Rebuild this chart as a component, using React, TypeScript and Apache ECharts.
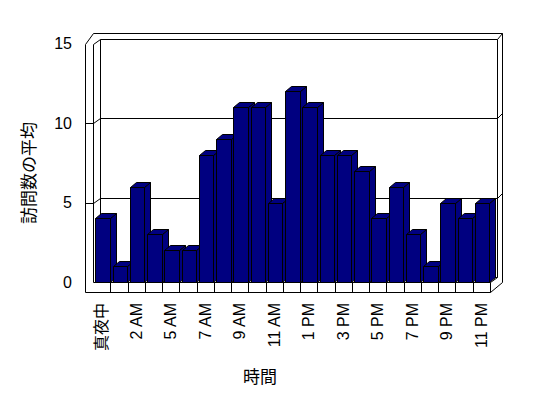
import React, { useEffect, useRef } from 'react';
import * as echarts from 'echarts';

const categories = ['真夜中', '1 AM', '2 AM', '4 AM', '5 AM', '6 AM', '7 AM', '8 AM', '9 AM', '10 AM', '11 AM', '正午', '1 PM', '2 PM', '3 PM', '4 PM', '5 PM', '6 PM', '7 PM', '8 PM', '9 PM', '10 PM', '11 PM'];
const visits = [4, 1, 6, 3, 2, 2, 8, 9, 11, 11, 5, 12, 11, 8, 8, 7, 4, 6, 3, 1, 5, 4, 5];
const gridValues = [5, 10];
const yMax = 15;
const yInterval = 5;
const yAxisTitle = '訪問数の平均';
const xAxisTitle = '時間';

const NAVY = '#000080';
const FONT = '"Liberation Sans", Arial, "Noto Sans CJK JP", sans-serif';

const px = (v: number) => Math.round(v) + 0.5;
const P = (pts: number[][]) => pts.map(([x, y]) => [px(x), px(y)]);

export default function App() {
  const ref = useRef<HTMLDivElement>(null);
  useEffect(() => {
    const chart = echarts.init(ref.current!, null, { renderer: 'svg' });
    const last = categories.length - 1;

    const frameRender = (_params: any, api: any) => {
      const w = api.size([1, 0])[0];
      const L = api.coord([0, 0])[0] - w / 2;
      const R = api.coord([last, 0])[0] + w / 2;
      const Y0 = api.coord([0, 0])[1];
      const Yt = api.coord([0, yMax])[1];
      const T = 8;
      const F = 10;
      const line = (pts: number[][]) => ({
        type: 'polyline',
        shape: { points: P(pts) },
        style: { stroke: '#000', lineWidth: 1, fill: null },
        silent: true,
      });
      const children: any[] = [];
      // back wall fill
      children.push({ type: 'rect', shape: { x: L + 7, y: Yt - 5, width: R - L, height: Y0 - Yt }, style: { fill: '#fff' } });
      children.push(line([[L - T, Yt], [L - T, Y0 + F], [R, Y0 + F]]));
      children.push(line([[L, Yt], [L, Y0], [R, Y0]]));
      children.push(line([[R, Y0], [R, Y0 + F]]));
      children.push(line([[R, Y0 + F], [R + 12, Y0]]));
      children.push(line([[R, Y0], [R + 7, Y0 - 5]]));
      children.push(line([[R + 12, Y0], [R + 12, Yt - 11]]));
      children.push(line([[R + 7, Y0 - 5], [R + 7, Yt - 5]]));
      children.push(line([[L - T, Yt], [L, Yt - 11], [R + 12, Yt - 11]]));
      children.push(line([[L, Yt], [L + 7, Yt - 5], [R + 7, Yt - 5], [R + 12, Yt - 11]]));
      children.push(line([[L + 7, Yt - 5], [L + 7, Y0 - 5]]));
      children.push(line([[L + 7, Y0 - 5], [R + 7, Y0 - 5]]));
      gridValues.forEach((v) => {
        const Yv = api.coord([0, v])[1];
        children.push(line([[L - T, Yv], [L, Yv], [L + 7, Yv - 5], [R + 7, Yv - 5], [R + 12, Yv - 10]]));
      });
      for (let i = 1; i <= last; i++) {
        const x = L + i * w;
        children.push(line([[x, Y0], [x, Y0 + F]]));
      }
      return { type: 'group', children };
    };

    const barRender = (_params: any, api: any) => {
      const i = api.value(0);
      const v = api.value(1);
      const w = api.size([1, 0])[0];
      const base = api.coord([i, 0]);
      const top = api.coord([i, v]);
      const x0 = px(base[0] - w / 2 + 2.3);
      const x1 = px(base[0] + w / 2 - 0.3);
      const yb = px(base[1]);
      const yt = px(top[1]);
      const dx = 6;
      const dy = -5;
      const style = { fill: NAVY, stroke: '#000', lineWidth: 1 };
      return {
        type: 'group',
        children: [
          { type: 'polygon', shape: { points: [[x1, yt], [x1 + dx, yt + dy], [x1 + dx, yb + dy], [x1, yb]] }, style },
          { type: 'polygon', shape: { points: [[x0, yt], [x0 + dx, yt + dy], [x1 + dx, yt + dy], [x1, yt]] }, style },
          { type: 'rect', shape: { x: x0, y: yt, width: x1 - x0, height: yb - yt }, style },
        ],
      };
    };

    chart.setOption({
      animation: false,
      backgroundColor: '#fff',
      grid: { left: 93, right: 58.25, top: 43.5, bottom: 116 },
      xAxis: {
        type: 'category',
        data: categories,
        axisLine: { show: false },
        axisTick: { show: false },
        splitLine: { show: false },
        axisLabel: { rotate: 90, interval: 1, fontSize: 16, color: '#000', fontFamily: FONT, margin: 21 },
      },
      yAxis: {
        type: 'value',
        min: 0,
        max: yMax,
        interval: yInterval,
        axisLine: { show: false },
        axisTick: { show: false },
        splitLine: { show: false },
        axisLabel: { fontSize: 16, color: '#000', fontFamily: FONT, margin: 21 },
      },
      graphic: [
        {
          type: 'text',
          x: 29,
          y: 173,
          rotation: Math.PI / 2,
          style: { text: yAxisTitle, font: '17px ' + FONT, fill: '#000', align: 'center', verticalAlign: 'middle' },
        },
        {
          type: 'text',
          x: 260,
          y: 377,
          style: { text: xAxisTitle, font: '17px ' + FONT, fill: '#000', align: 'center', verticalAlign: 'middle' },
        },
      ],
      series: [
        { type: 'custom', name: 'frame', data: [[0, 0]], renderItem: frameRender, clip: false, silent: true, z: 1 },
        { type: 'custom', name: '訪問数', data: visits.map((v, i) => [i, v]), renderItem: barRender, clip: false, z: 2 },
      ],
    });
    return () => chart.dispose();
  }, []);
  return <div ref={ref} style={{ position: 'fixed', left: 0, top: 0, width: 548, height: 398 }} />;
}
